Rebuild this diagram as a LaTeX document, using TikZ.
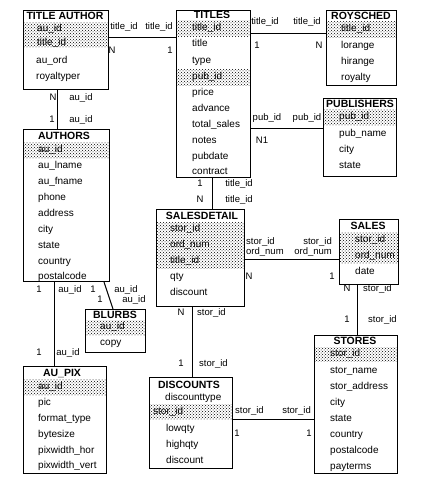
\documentclass[tikz,border=0pt]{standalone}
\usepackage{fontspec}
\setmainfont{Liberation Sans}
\usetikzlibrary{patterns}

\tikzset{
  tbl/.style={draw,line width=1pt,anchor=north west,inner sep=0pt},
  ttl/.style={font=\fontsize{10.5}{12}\selectfont\bfseries,inner sep=0pt},
  fld/.style={font=\fontsize{10}{12}\selectfont,anchor=west,inner sep=0pt,text height=7pt,text depth=2pt},
  lbl/.style={font=\fontsize{9.5}{11}\selectfont,inner sep=0pt,text height=7pt,text depth=2pt},
  key/.style={pattern=crosshatch dots,pattern color=black},
  lnk/.style={line width=1pt},
}

\begin{document}
\begin{tikzpicture}[x=1pt,y=-1pt]
  \useasboundingbox (0,0) rectangle (421,479);
  % key columns
  \fill[key] (23,22) rectangle (108,47);
  \fill[key] (176,20) rectangle (250,36);
  \fill[key] (176,69) rectangle (250,85);
  \fill[key] (326,21) rectangle (396,37);
  \fill[key] (323,109) rectangle (396,125);
  \fill[key] (23,142) rectangle (109,158);
  \fill[key] (85,320) rectangle (145,335);
  \fill[key] (23,379) rectangle (106,395);
  \fill[key] (156,222) rectangle (244,268);
  \fill[key] (339,232) rectangle (398,263);
  \fill[key] (314,347) rectangle (397,361);
  \fill[key] (149,404) rectangle (232,419);
  % tables
  \node[tbl,minimum width=85pt,minimum height=79pt] (titleauthor) at (23,10) {};
  \node[tbl,minimum width=74pt,minimum height=167pt] (titles) at (176,10) {};
  \node[tbl,minimum width=70pt,minimum height=75pt] (roysched) at (326,10) {};
  \node[tbl,minimum width=73pt,minimum height=78pt] (publishers) at (323,98) {};
  \node[tbl,minimum width=86pt,minimum height=152pt] (authors) at (23,129) {};
  \node[tbl,minimum width=60pt,minimum height=43pt] (blurbs) at (85,309) {};
  \node[tbl,minimum width=83pt,minimum height=107pt] (aupix) at (23,366) {};
  \node[tbl,minimum width=88pt,minimum height=97pt] (salesdetail) at (156,209) {};
  \node[tbl,minimum width=59pt,minimum height=65pt] (sales) at (339,219) {};
  \node[tbl,minimum width=83pt,minimum height=138pt] (stores) at (314,335) {};
  \node[tbl,minimum width=83pt,minimum height=91pt] (discounts) at (149,377) {};
  % titles
  \node[ttl] (titleauthor-t) at (65,16) {TITLE AUTHOR};
  \node[ttl] (titles-t) at (212,15) {TITLES};
  \node[ttl] (roysched-t) at (361,16) {ROYSCHED};
  \node[ttl] (publishers-t) at (360,104) {PUBLISHERS};
  \node[ttl] (authors-t) at (64,136) {AUTHORS};
  \node[ttl] (blurbs-t) at (115,315) {BLURBS};
  \node[ttl] (aupix-t) at (62,374) {AU\_PIX};
  \node[ttl] (salesdetail-t) at (202,216) {SALESDETAIL};
  \node[ttl] (sales-t) at (368,226) {SALES};
  \node[ttl] (stores-t) at (355,341) {STORES};
  \node[ttl] (discounts-t) at (189,385) {DISCOUNTS};
  % columns
  \foreach \t/\y [count=\i] in {au\_id/29,title\_id/43}
    \node[fld] (titleauthor-k\i) at (37,\y) {\t};
  \foreach \t/\y [count=\i] in {au\_ord/61,royaltyper/77}
    \node[fld] (titleauthor-f\i) at (36,\y) {\t};
  \foreach \t/\y [count=\i] in {title\_id/28,title/44,type/61,pub\_id/77,price/93,advance/109,total\_sales/125,notes/141,pubdate/157,contract/172}
    \node[fld] (titles-f\i) at (192,\y) {\t};
  \foreach \t/\y [count=\i] in {title\_id/29,lorange/46,hirange/62,royalty/78}
    \node[fld] (roysched-f\i) at (341,\y) {\t};
  \foreach \t/\y [count=\i] in {pub\_id/117,pub\_name/134,city/150,state/166}
    \node[fld] (publishers-f\i) at (339,\y) {\t};
  \foreach \t/\y [count=\i] in {au\_id/150,au\_lname/166,au\_fname/182,phone/198,address/214,city/230,state/246,country/262,postalcode/277}
    \node[fld] (authors-f\i) at (38,\y) {\t};
  \foreach \t/\y [count=\i] in {au\_id/327,copy/343}
    \node[fld] (blurbs-f\i) at (100,\y) {\t};
  \foreach \t/\y [count=\i] in {au\_id/387,pic/403,format\_type/419,bytesize/435,pixwidth\_hor/451,pixwidth\_vert/466}
    \node[fld] (aupix-f\i) at (38,\y) {\t};
  \foreach \t/\y [count=\i] in {stor\_id/229,ord\_num/245,title\_id/261,qty/277,discount/293}
    \node[fld] (salesdetail-f\i) at (170,\y) {\t};
  \foreach \t/\y [count=\i] in {stor\_id/240,ord\_num/256,date/272}
    \node[fld] (sales-f\i) at (355,\y) {\t};
  \foreach \t/\y [count=\i] in {stor\_id/354,stor\_name/371,stor\_address/387,city/403,state/419,country/435,postalcode/451,payterms/467}
    \node[fld] (stores-f\i) at (330,\y) {\t};
  \node[fld] (discounts-f1) at (165,398) {discounttype};
  \node[fld] (discounts-f2) at (153,412) {stor\_id};
  \foreach \t/\y [count=\i from 3] in {lowqty/429,highqty/445,discount/461}
    \node[fld] (discounts-f\i) at (166,\y) {\t};
  % relations
  \draw[lnk] (titleauthor.east |- 0,37) -- (titles.west |- 0,37);
  \draw[lnk] (titles.east |- 0,33) -- (roysched.west |- 0,33);
  \draw[lnk] (titles.east |- 0,128) -- (publishers.west |- 0,128);
  \draw[lnk] (titleauthor.south -| 57,0) -- (authors.north -| 57,0);
  \draw[lnk] (authors.south -| 54,0) -- (aupix.north -| 54,0);
  \draw[lnk] (authors.south -| 104,0) -- (blurbs.north -| 113,0);
  \draw[lnk] (titles.south -| 212,0) -- (salesdetail.north -| 212,0);
  \draw[lnk] (salesdetail.east |- 0,259) -- (sales.west |- 0,259);
  \draw[lnk] (sales.south -| 357,0) -- (stores.north -| 357,0);
  \draw[lnk] (salesdetail.south -| 192,0) -- (discounts.north -| 192,0);
  \draw[lnk] (discounts.east |- 0,419) -- (stores.west |- 0,419);
  % relation labels
  \node[lbl] (r1a) at (124,27) {title\_id};
  \node[lbl] (r1b) at (159,27) {title\_id};
  \node[lbl] (r1c) at (112,51) {N};
  \node[lbl] (r1d) at (170,51) {1};
  \node[lbl] (r2a) at (265,22) {title\_id};
  \node[lbl] (r2b) at (307,22) {title\_id};
  \node[lbl] (r2c) at (257,46) {1};
  \node[lbl] (r2d) at (319,46) {N};
  \node[lbl] (r3a) at (267,118) {pub\_id};
  \node[lbl] (r3b) at (307,118) {pub\_id};
  \node[lbl] (r3c) at (262,141) {N1};
  \node[lbl] (r4a) at (53,98) {N};
  \node[lbl] (r4b) at (81,98) {au\_id};
  \node[lbl] (r4c) at (52,120) {1};
  \node[lbl] (r4d) at (81,120) {au\_id};
  \node[lbl] (r5a) at (39,290) {1};
  \node[lbl] (r5b) at (70,290) {au\_id};
  \node[lbl] (r5c) at (39,353) {1};
  \node[lbl] (r5d) at (68,353) {au\_id};
  \node[lbl] (r6a) at (93,290) {1};
  \node[lbl] (r6b) at (126,290) {au\_id};
  \node[lbl] (r6c) at (100,300) {1};
  \node[lbl] (r6d) at (134,300) {au\_id};
  \node[lbl] (r7a) at (200,184) {1};
  \node[lbl] (r7b) at (239,184) {title\_id};
  \node[lbl] (r7c) at (200,200) {N};
  \node[lbl] (r7d) at (239,200) {title\_id};
  \node[lbl,anchor=west] (r8a) at (246,242) {stor\_id};
  \node[lbl,anchor=west] (r8b) at (246,252) {ord\_num};
  \node[lbl,anchor=east] (r8c) at (332,242) {stor\_id};
  \node[lbl,anchor=east] (r8d) at (332,252) {ord\_num};
  \node[lbl] (r8e) at (249,277) {N};
  \node[lbl] (r8f) at (332,277) {1};
  \node[lbl] (r9a) at (347,289) {N};
  \node[lbl,anchor=west] (r9b) at (363,289) {stor\_id};
  \node[lbl] (r9c) at (347,320) {1};
  \node[lbl,anchor=west] (r9d) at (368,320) {stor\_id};
  \node[lbl] (r10a) at (181,313) {N};
  \node[lbl,anchor=west] (r10b) at (197,313) {stor\_id};
  \node[lbl] (r10c) at (181,364) {1};
  \node[lbl,anchor=west] (r10d) at (199,364) {stor\_id};
  \node[lbl,anchor=west] (r11a) at (235,411) {stor\_id};
  \node[lbl,anchor=east] (r11b) at (311,411) {stor\_id};
  \node[lbl] (r11c) at (237,434) {1};
  \node[lbl] (r11d) at (309,434) {1};
\end{tikzpicture}
\end{document}
